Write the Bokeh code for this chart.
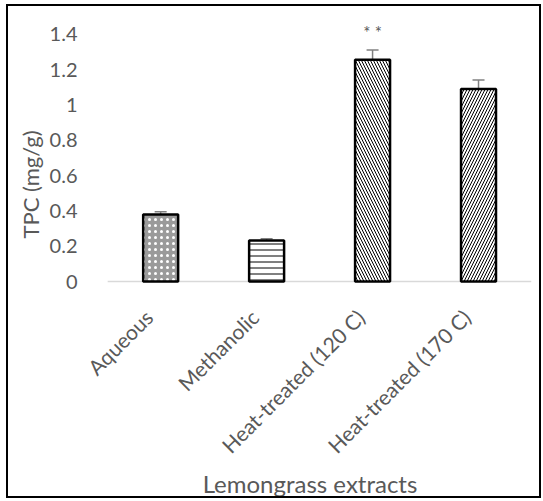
import numpy as np
from bokeh.plotting import figure
from bokeh.models import (Range1d, ColumnDataSource, Whisker, TeeHead,
                          FixedTicker, LabelSet, Title)
from bokeh.core.properties import value
from bokeh.embed import file_html
from bokeh.resources import INLINE

categories = ["Aqueous", "Methanolic", "Heat-treated (120 C)", "Heat-treated (170 C)"]
tpc = [0.38, 0.232, 1.255, 1.09]
err = [0.015, 0.01, 0.055, 0.05]
hatches = ["dot", "horizontal_line", "left_diagonal_line", "right_diagonal_line"]
fills = ["#9a9a9a", "white", "white", "white"]
hatch_colors = ["white", "black", "black", "black"]
marks = ["", "", "* *", ""]
y_ticks = [0, 0.2, 0.4, 0.6, 0.8, 1.0, 1.2, 1.4]
y_tick_labels = {0: "0", 0.2: "0.2", 0.4: "0.4", 0.6: "0.6", 0.8: "0.8", 1.0: "1", 1.2: "1.2", 1.4: "1.4"}
y_title = "TPC (mg/g)"
x_title = "Lemongrass extracts"

FONT = "Lato"
GRAY = "#595959"

pos = np.arange(len(categories))  # category slots on the x scale
n = len(categories)

src = ColumnDataSource(dict(
    x=pos, cat=categories, tpc=tpc,
    lower=[v - e for v, e in zip(tpc, err)],
    upper=[v + e for v, e in zip(tpc, err)],
    hatch=hatches, fill=fills, hcol=hatch_colors,
    mark=marks,
    mark_y=[v + e + 0.1 for v, e in zip(tpc, err)],
))

# frame extends below zero (and a little to the left) so the slanted category labels fit inside it
p = figure(x_range=Range1d(-0.5 - 0.181, n - 0.5),
           y_range=Range1d(-1.03, 1.5),
           width=531, height=490,
           output_backend="svg", toolbar_location=None,
           min_border_left=80, min_border_right=12,
           min_border_top=10, min_border_bottom=35)
p.styles = {"border": "2px solid black", "margin-left": "6px", "margin-top": "4px",
            "box-sizing": "content-box"}

p.vbar(x="x", top="tpc", width=0.33, source=src,
       fill_color="fill", line_color="black", line_width=2.5,
       hatch_pattern="hatch", hatch_color="hcol", hatch_scale=6, hatch_weight=1)

# category axis line along zero, spanning the category slots
p.segment(x0=[-0.5], x1=[n - 0.5], y0=[0], y1=[0], line_color="#d9d9d9", line_width=1.5,
          level="underlay")

w = Whisker(base="x", lower="lower", upper="upper", source=src,
            line_color="#808080", line_width=1.5,
            upper_head=TeeHead(size=12, line_color="#808080", line_width=1.5),
            lower_head=None)
p.add_layout(w)

p.text(x="x", y="mark_y", text="mark", source=src,
       text_font=value(FONT), text_font_size="17px", text_color=GRAY,
       text_align="center", text_baseline="middle")

# rotated category labels, right end anchored under each bar
labels = LabelSet(x="x", y=-0.18, x_offset=-12, text="cat", source=src,
                  angle=np.pi / 4, text_align="right", text_baseline="middle",
                  text_font=value(FONT), text_font_size="21px", text_color=GRAY)
p.add_layout(labels)

p.xaxis.visible = False
p.xgrid.grid_line_color = None
p.ygrid.grid_line_color = None
p.outline_line_color = None

p.yaxis.ticker = FixedTicker(ticks=y_ticks)
p.yaxis.major_label_overrides = y_tick_labels
p.yaxis.axis_line_color = None
p.yaxis.major_tick_line_color = None
p.yaxis.minor_tick_line_color = None
p.yaxis.major_label_text_font = FONT
p.yaxis.major_label_text_font_size = "20px"
p.yaxis.major_label_text_color = GRAY
p.yaxis.major_label_standoff = 5

p.add_layout(Title(text=y_title, align="left", offset=225, standoff=6,
                   text_font=FONT, text_font_size="22px", text_font_style="normal",
                   text_color=GRAY), "left")
p.add_layout(Title(text=x_title, align="center", standoff=6,
                   text_font=FONT, text_font_size="24px", text_font_style="normal",
                   text_color=GRAY), "below")

open("out.html", "w").write(file_html(p, INLINE))
